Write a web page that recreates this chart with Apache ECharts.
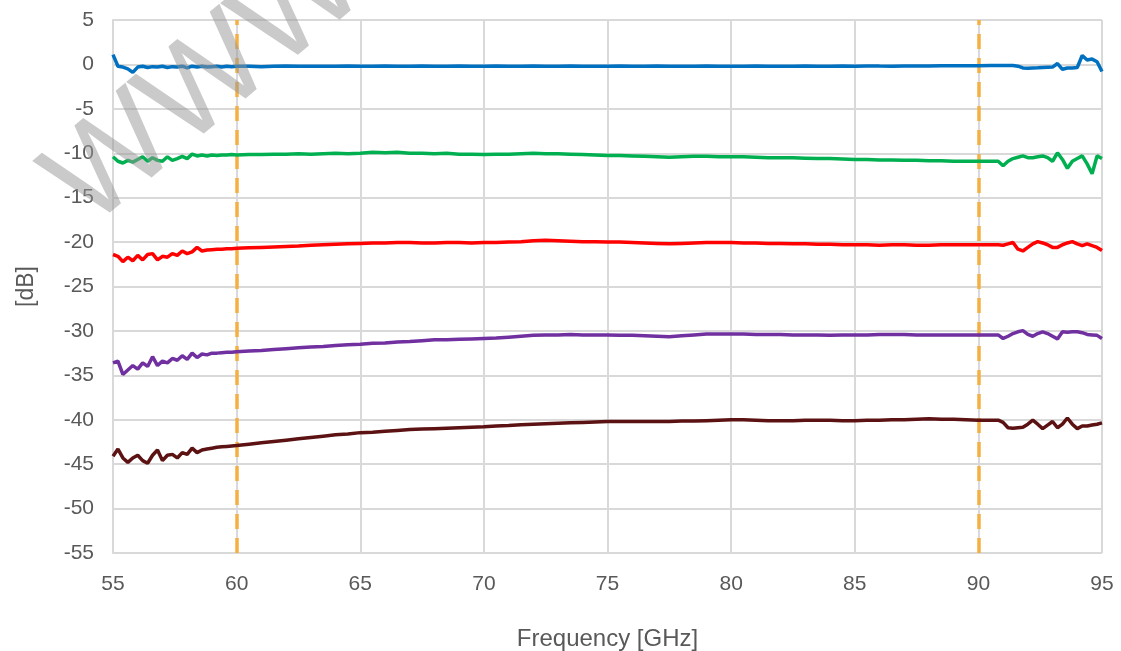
<!DOCTYPE html>
<html>
<head>
<meta charset="utf-8">
<script src="https://cdn.jsdelivr.net/npm/echarts@6/dist/echarts.min.js"></script>
<style>
html,body{margin:0;padding:0;background:#fff;}
#chart{width:1121px;height:651px;}
</style>
</head>
<body>
<div id="chart"></div>
<script>
// Frequency points [GHz]
var freq = [
55.0,55.2,55.4,55.6,55.8,56.0,56.2,56.4,56.6,56.8,57.0,57.2,57.4,57.6,57.8,58.0,58.2,58.4,58.6,58.8,59.0,59.2,59.4,59.6,59.8,60.0,
60.5,61,61.5,62,62.5,63,63.5,64,64.5,65,65.5,66,66.5,67,67.5,68,68.5,69,69.5,70,
70.5,71,71.5,72,72.5,73,73.5,74,74.5,75,75.5,76,76.5,77,77.5,78,78.5,79,79.5,80,
80.5,81,81.5,82,82.5,83,83.5,84,84.5,85,85.5,86,86.5,87,87.5,88,88.5,89,89.5,90,90.5,
90.8,91.0,91.2,91.4,91.6,91.8,92.0,92.2,92.4,92.6,92.8,93.0,93.2,93.4,93.6,93.8,94.0,94.2,94.4,94.6,94.8,95.0
];

var blue = [
1.1,-0.2,-0.3,-0.5,-0.9,-0.3,-0.2,-0.35,-0.25,-0.3,-0.2,-0.35,-0.25,-0.3,-0.2,-0.4,-0.2,-0.3,-0.2,-0.3,-0.25,-0.2,-0.3,-0.2,-0.25,-0.2,
-0.2,-0.25,-0.2,-0.18,-0.2,-0.22,-0.2,-0.2,-0.18,-0.2,
-0.2,-0.18,-0.2,-0.2,-0.18,-0.2,-0.2,-0.19,-0.2,-0.2,
-0.19,-0.2,-0.2,-0.18,-0.2,-0.2,-0.19,-0.2,-0.2,-0.2,
-0.19,-0.2,-0.2,-0.18,-0.2,-0.2,-0.2,-0.19,-0.2,-0.2,
-0.2,-0.19,-0.2,-0.2,-0.2,-0.18,-0.2,-0.2,-0.19,-0.2,
-0.17,-0.19,-0.2,-0.18,-0.17,-0.18,-0.16,-0.15,-0.15,-0.14,
-0.13,
-0.13,-0.13,-0.12,-0.13,-0.2,-0.4,-0.42,-0.4,-0.38,-0.35,-0.32,-0.3,0.1,-0.55,-0.4,-0.4,-0.35,1.0,0.5,0.6,0.3,-0.8
];

var green = [
-10.4,-10.9,-11.1,-10.8,-11.0,-10.7,-10.4,-10.9,-10.5,-10.8,-10.9,-10.4,-10.8,-10.6,-10.35,-10.6,-10.1,-10.3,-10.2,-10.3,-10.2,-10.25,-10.2,-10.2,-10.15,-10.2,
-10.15,-10.15,-10.1,-10.1,-10.05,-10.1,-10.05,-10.0,-10.05,-10.0,
-9.9,-9.95,-9.9,-10.0,-10.0,-10.05,-10.0,-10.1,-10.1,-10.15,
-10.1,-10.1,-10.05,-10.0,-10.05,-10.05,-10.1,-10.15,-10.2,-10.25,
-10.25,-10.3,-10.35,-10.4,-10.45,-10.4,-10.35,-10.35,-10.4,-10.4,
-10.4,-10.45,-10.5,-10.5,-10.5,-10.55,-10.6,-10.6,-10.65,-10.7,
-10.7,-10.75,-10.75,-10.8,-10.8,-10.85,-10.85,-10.9,-10.9,-10.9,
-10.9,
-10.9,-11.4,-10.9,-10.6,-10.45,-10.3,-10.5,-10.5,-10.4,-10.3,-10.5,-10.9,-9.95,-10.7,-11.7,-10.9,-10.6,-10.3,-11.2,-12.3,-10.3,-10.6
];

var red = [
-21.4,-21.6,-22.2,-21.7,-22.1,-21.5,-22.0,-21.4,-21.3,-22.0,-21.6,-21.7,-21.3,-21.5,-21.0,-21.3,-21.1,-20.6,-21.0,-20.9,-20.85,-20.8,-20.8,-20.75,-20.75,-20.7,
-20.65,-20.6,-20.55,-20.5,-20.45,-20.35,-20.3,-20.25,-20.2,-20.15,
-20.1,-20.1,-20.05,-20.05,-20.1,-20.1,-20.05,-20.05,-20.1,-20.05,
-20.05,-20.0,-19.95,-19.85,-19.8,-19.85,-19.9,-19.95,-19.95,-20.0,
-20.0,-20.05,-20.1,-20.15,-20.2,-20.15,-20.1,-20.05,-20.05,-20.05,
-20.1,-20.1,-20.15,-20.15,-20.2,-20.2,-20.25,-20.25,-20.3,-20.3,
-20.3,-20.35,-20.3,-20.3,-20.35,-20.35,-20.3,-20.3,-20.3,-20.3,
-20.3,
-20.3,-20.35,-20.2,-20.05,-20.8,-21.0,-20.6,-20.2,-19.95,-20.1,-20.3,-20.6,-20.6,-20.3,-20.1,-19.95,-20.2,-20.4,-20.2,-20.4,-20.6,-20.95
];

var purple = [
-33.6,-33.4,-34.9,-34.4,-33.9,-34.3,-33.6,-34.0,-32.9,-33.9,-33.4,-33.6,-33.1,-33.3,-32.8,-33.2,-32.5,-33.0,-32.6,-32.7,-32.5,-32.5,-32.45,-32.4,-32.4,-32.35,
-32.25,-32.2,-32.1,-32.0,-31.9,-31.8,-31.75,-31.65,-31.55,-31.5,
-31.4,-31.35,-31.25,-31.2,-31.1,-31.0,-31.0,-30.95,-30.9,-30.85,
-30.8,-30.7,-30.6,-30.5,-30.45,-30.45,-30.4,-30.45,-30.45,-30.45,
-30.5,-30.5,-30.55,-30.6,-30.65,-30.55,-30.45,-30.35,-30.35,-30.35,
-30.35,-30.4,-30.4,-30.4,-30.45,-30.45,-30.45,-30.5,-30.45,-30.45,
-30.45,-30.4,-30.4,-30.4,-30.45,-30.45,-30.45,-30.45,-30.45,-30.45,
-30.45,
-30.45,-30.85,-30.6,-30.3,-30.1,-29.97,-30.4,-30.6,-30.3,-30.1,-30.3,-30.6,-30.9,-30.1,-30.15,-30.1,-30.1,-30.2,-30.4,-30.45,-30.5,-30.85
];

var brown = [
-44.1,-43.3,-44.3,-44.8,-44.3,-44.0,-44.6,-44.9,-44.0,-43.4,-44.6,-44.0,-43.9,-44.3,-43.7,-43.9,-43.2,-43.7,-43.4,-43.3,-43.2,-43.1,-43.05,-43.0,-42.95,-42.9,
-42.75,-42.6,-42.45,-42.3,-42.15,-42.0,-41.85,-41.7,-41.6,-41.45,
-41.4,-41.3,-41.2,-41.1,-41.05,-41.0,-40.95,-40.9,-40.85,-40.8,
-40.7,-40.65,-40.55,-40.5,-40.45,-40.4,-40.35,-40.3,-40.25,-40.2,
-40.2,-40.2,-40.2,-40.2,-40.2,-40.15,-40.15,-40.1,-40.05,-40.0,
-40.0,-40.05,-40.1,-40.1,-40.1,-40.05,-40.05,-40.05,-40.1,-40.1,
-40.05,-40.05,-40.0,-40.0,-39.95,-39.9,-39.95,-39.95,-40.0,-40.05,
-40.05,
-40.05,-40.3,-40.9,-40.95,-40.9,-40.85,-40.5,-40.05,-40.5,-41.0,-40.6,-40.2,-40.9,-40.5,-39.8,-40.5,-41.0,-40.7,-40.7,-40.6,-40.5,-40.35
];

var bandEdges = [60, 90];

var xTicks = {min: 55, max: 95, interval: 5};
var yTicks = {min: -55, max: 5, interval: 5};

function pairs(vals) {
  return freq.map(function (f, i) { return [f, vals[i]]; });
}

var seriesDefs = [
  {name: 'S1', vals: blue,   color: '#0070C0'},
  {name: 'S2', vals: green,  color: '#00B050'},
  {name: 'S3', vals: red,    color: '#FF0000'},
  {name: 'S4', vals: purple, color: '#7030A0'},
  {name: 'S5', vals: brown,  color: '#5C1212'}
];

var FONT = '"Liberation Sans", Arial, sans-serif';
var chart = echarts.init(document.getElementById('chart'), null, {renderer: 'canvas'});

var series = seriesDefs.map(function (s) {
  return {
    name: s.name,
    type: 'line',
    data: pairs(s.vals),
    showSymbol: false,
    smooth: false,
    lineStyle: {color: s.color, width: 3.5},
    itemStyle: {color: s.color},
    z: 3
  };
});
series[0].markLine = {
  silent: true,
  symbol: ['none', 'none'],
  label: {show: false},
  lineStyle: {color: '#F5B043', width: 3.5, type: [15, 9]},
  data: bandEdges.map(function (v) { return {xAxis: v}; }),
  z: 2
};

chart.setOption({
  backgroundColor: '#ffffff',
  animation: false,
  grid: {left: 113, right: 19, top: 20, bottom: 98, containLabel: false, outerBoundsMode: 'none'},
  xAxis: {
    type: 'value',
    min: xTicks.min, max: xTicks.max, interval: xTicks.interval,
    name: 'Frequency [GHz]',
    nameLocation: 'middle',
    nameGap: 74,
    nameTextStyle: {color: '#595959', fontSize: 24, fontFamily: FONT},
    axisLine: {show: true, lineStyle: {color: '#d9d9d9', width: 2}},
    axisTick: {show: false},
    axisLabel: {color: '#595959', fontSize: 21, fontFamily: FONT, margin: 21},
    splitLine: {show: true, lineStyle: {color: '#d9d9d9', width: 2}}
  },
  yAxis: {
    type: 'value',
    min: yTicks.min, max: yTicks.max, interval: yTicks.interval,
    name: '[dB]',
    nameLocation: 'middle',
    nameGap: 75,
    nameTextStyle: {color: '#595959', fontSize: 23, fontFamily: FONT},
    axisLine: {show: true, lineStyle: {color: '#d9d9d9', width: 2}},
    axisTick: {show: false},
    axisLabel: {color: '#595959', fontSize: 21, fontFamily: FONT, margin: 19},
    splitLine: {show: true, lineStyle: {color: '#d9d9d9', width: 2}}
  },
  graphic: [{
    type: 'text',
    x: 108, y: 252,
    rotation: 40 * Math.PI / 180,
    z: 100,
    silent: true,
    style: {
      text: 'WWW.',
      fill: 'rgba(150,150,150,0.5)',
      font: '130px "Liberation Sans", Arial, sans-serif',
      textAlign: 'left',
      textVerticalAlign: 'bottom'
    }
  }],
  series: series
});
</script>
</body>
</html>
